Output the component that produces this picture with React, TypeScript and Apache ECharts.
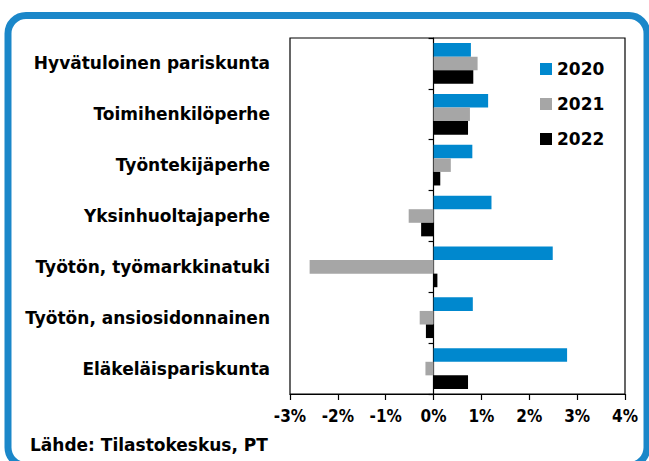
import React, { useEffect, useRef } from "react";
import * as echarts from "echarts";

const categories = [
  "Hyvätuloinen pariskunta",
  "Toimihenkilöperhe",
  "Työntekijäperhe",
  "Yksinhuoltajaperhe",
  "Työtön, työmarkkinatuki",
  "Työtön, ansiosidonnainen",
  "Eläkeläispariskunta",
];
const seriesNames = ["2020", "2021", "2022"];
const values2020 = [0.78, 1.14, 0.81, 1.21, 2.49, 0.82, 2.79];
const values2021 = [0.92, 0.76, 0.36, -0.52, -2.59, -0.29, -0.17];
const values2022 = [0.83, 0.72, 0.14, -0.26, 0.08, -0.16, 0.72];
const colors = ["#0088CE", "#A6A6A6", "#000000"];
const sourceText = "Lähde: Tilastokeskus, PT";

const FONT = "'DejaVu Sans', sans-serif";
const FONT_COND = "'DejaVu Sans Condensed', 'DejaVu Sans', sans-serif";

export default function App() {
  const ref = useRef<HTMLDivElement>(null);
  useEffect(() => {
    document.body.style.margin = "0";
    if (!ref.current) return;
    const chart = echarts.init(ref.current, null, { renderer: "svg" });
    const data = [values2020, values2021, values2022];
    chart.setOption({
      animation: false,
      backgroundColor: "#fff",
      textStyle: { fontFamily: FONT },
      grid: {
        left: 290,
        top: 38,
        width: 335,
        height: 356,
        show: true,
        borderColor: "#000",
        borderWidth: 1.2,
        containLabel: false,
      },
      legend: {
        data: seriesNames,
        orient: "vertical",
        left: 540,
        top: 60,
        itemWidth: 12,
        itemHeight: 12,
        itemGap: 17,
        icon: "rect",
        textStyle: {
          fontFamily: FONT,
          fontWeight: "bold",
          fontSize: 17,
          lineHeight: 18,
          color: "#000",
        },
        padding: 0,
      },
      xAxis: {
        type: "value",
        min: -3,
        max: 4,
        interval: 1,
        axisLine: { show: true, onZero: false, lineStyle: { color: "#000", width: 1.2 } },
        axisTick: { show: true, length: 6, lineStyle: { color: "#000", width: 1.2 } },
        splitLine: { show: false },
        axisLabel: {
          formatter: "{value}%",
          fontFamily: FONT_COND,
          fontWeight: "bold",
          fontSize: 17,
          color: "#000",
          margin: 13,
        },
      },
      yAxis: [
        {
          type: "category",
          data: categories,
          inverse: true,
          position: "left",
          axisLine: { show: false, onZero: false },
          axisTick: { show: false },
          axisLabel: {
            fontFamily: FONT,
            fontWeight: "bold",
            fontSize: 17,
            color: "#000",
            margin: 20,
          },
        },
        {
          type: "category",
          data: categories,
          inverse: true,
          position: "left",
          axisLine: { show: true, onZero: true, lineStyle: { color: "#000", width: 1.2 } },
          axisTick: { show: true, length: 5, lineStyle: { color: "#000", width: 1.2 } },
          axisLabel: { show: false },
        },
      ],
      series: seriesNames.map((name, i) => ({
        name,
        type: "bar",
        yAxisIndex: 0,
        data: data[i],
        barGap: "0%",
        barCategoryGap: "20%",
        itemStyle: { color: colors[i] },
      })),
      graphic: [
        {
          type: "rect",
          shape: { x: 8, y: 15.5, width: 639, height: 450, r: 18 },
          style: { fill: "none", stroke: "#1B87C9", lineWidth: 7 },
          silent: true,
        },
        {
          type: "text",
          left: 30,
          top: 436,
          style: {
            text: sourceText,
            fontFamily: FONT,
            fontWeight: "bold",
            fontSize: 17,
            fill: "#000",
          },
        },
      ],
    });
    return () => chart.dispose();
  }, []);
  return <div ref={ref} style={{ width: 649, height: 461 }} />;
}
